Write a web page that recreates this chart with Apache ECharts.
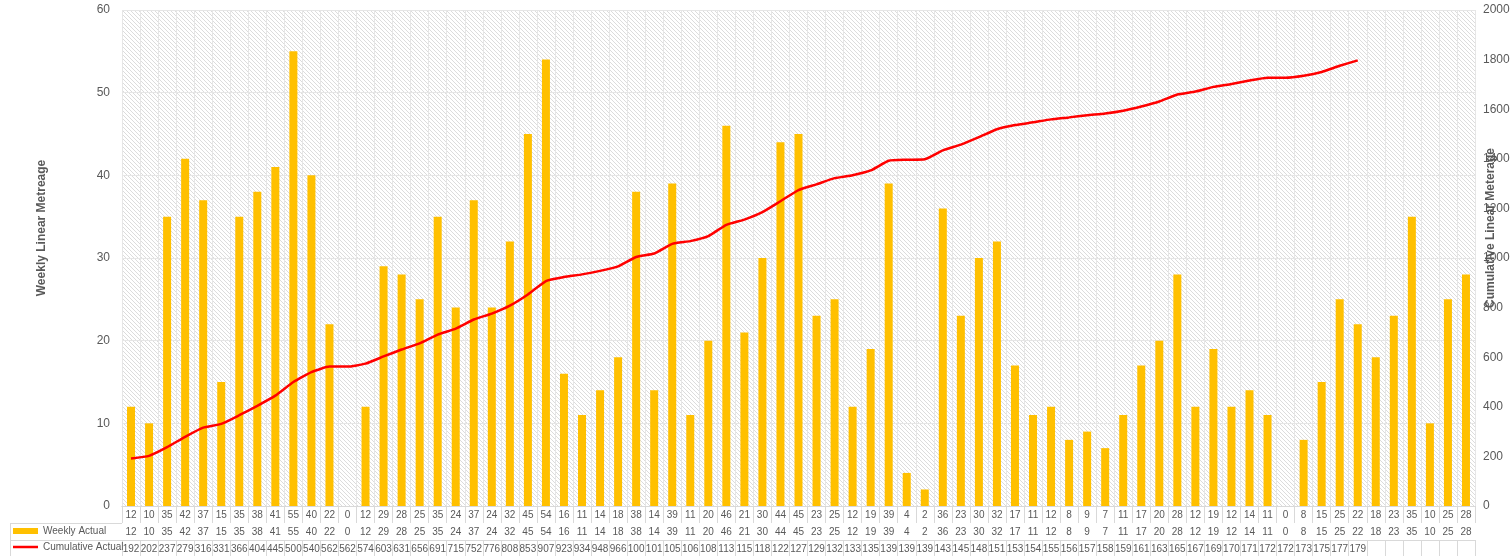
<!DOCTYPE html>
<html><head><meta charset="utf-8">
<script src="https://cdn.jsdelivr.net/npm/echarts@6/dist/echarts.min.js"></script>
<style>html,body{margin:0;padding:0;background:#fff}#c{width:1512px;height:556px}</style>
</head><body><div id="c"></div>
<script>
const weeklyActual = [12,10,35,42,37,15,35,38,41,55,40,22,0,12,29,28,25,35,24,37,24,32,45,54,16,11,14,18,38,14,39,11,20,46,21,30,44,45,23,25,12,19,39,4,2,36,23,30,32,17,11,12,8,9,7,11,17,20,28,12,19,12,14,11,0,8,15,25,22,18,23,35,10,25,28];
const cumulativeActual = [192,202,237,279,316,331,366,404,445,500,540,562,562,574,603,631,656,691,715,752,776,808,853,907,923,934,948,966,1004,1018,1057,1068,1088,1134,1155,1185,1229,1274,1297,1322,1334,1353,1392,1396,1398,1434,1457,1487,1519,1536,1547,1559,1567,1576,1583,1594,1611,1631,1659,1671,1690,1702,1716,1727,1727,1735,1750,1775,1797];
const weeks = weeklyActual.map((v,i)=>'W'+(i+1));
const leftTicks = {min:0, max:60, interval:10};
const rightTicks = {min:0, max:2000, interval:200};

const pc = document.createElement('canvas');
pc.width = 4; pc.height = 4;
const g = pc.getContext('2d');
g.fillStyle = '#ffffff'; g.fillRect(0,0,4,4);
g.strokeStyle = '#dcdcdc'; g.lineWidth = 1;
g.beginPath(); g.moveTo(-1,-1); g.lineTo(5,5); g.moveTo(-1,3); g.lineTo(1,5); g.moveTo(3,-1); g.lineTo(5,1); g.stroke();

const TXT = '#595959', LINE = '#d9d9d9';
const FONT = '"Liberation Sans",sans-serif';
const ROW = 17;

function tableAxis(idx, labels, offset, tickLen){
  return {
    type:'category', data: weeks, position:'bottom', offset: offset, gridIndex:0,
    boundaryGap:true,
    axisLine:{show:true, lineStyle:{color:LINE, width:1}},
    axisTick:{show:true, inside:false, length:tickLen, interval:0, lineStyle:{color:LINE}},
    axisLabel:{show:true, interval:0, margin:4, color:TXT, fontSize:10, fontFamily:FONT, hideOverlap:false,
      formatter:(v, i)=> labels[i]===undefined ? '' : String(labels[i]).slice(0,3)},
    splitLine:{show: idx===0, interval:0, lineStyle:{color:'#e6e6e6'}}
  };
}

const chart = echarts.init(document.getElementById('c'), null, {renderer:'canvas'});
chart.setOption({
  animation:false,
  textStyle:{fontFamily:FONT},
  grid:{left:122, right:37, top:10, bottom:50, show:true, outerBoundsMode:'none', containLabel:false,
        backgroundColor:{image:pc, repeat:'repeat'}, borderWidth:0},
  legend:[
    {left:13, top:526, itemWidth:25, itemHeight:6, padding:0,
     textStyle:{color:TXT, fontSize:10, fontFamily:FONT},
     data:[{name:'Weekly Actual', icon:'rect'}]},
    {left:13, top:542, itemWidth:25, itemHeight:6, padding:0,
     textStyle:{color:TXT, fontSize:10, fontFamily:FONT},
     data:[{name:'Cumulative Actual', icon:'path://M0,0H25V2.5H0Z'}]}
  ],
  xAxis:[
    tableAxis(0, weeklyActual, 0, ROW),
    tableAxis(1, weeklyActual, ROW, ROW),
    tableAxis(2, cumulativeActual, ROW*2, ROW)
  ],
  yAxis:[
    {type:'value', min:leftTicks.min, max:leftTicks.max, interval:leftTicks.interval,
     name:'Weekly Linear Metreage', nameLocation:'middle', nameGap:74, nameRotate:90, nameMoveOverlap:false,
     nameTextStyle:{color:TXT, fontWeight:'bold', fontSize:12, fontFamily:FONT, padding:[0,0,0,60]},
     axisLine:{show:false}, axisTick:{show:false},
     axisLabel:{color:TXT, fontSize:12, margin:12, fontFamily:FONT},
     splitLine:{show:true, lineStyle:{color:'#e6e6e6', width:1}}},
    {type:'value', min:rightTicks.min, max:rightTicks.max, interval:rightTicks.interval, position:'right',
     name:'Cumulative Linear Meterage', nameLocation:'middle', nameGap:10, nameRotate:90, nameMoveOverlap:false,
     nameTextStyle:{color:TXT, fontWeight:'bold', fontSize:12, fontFamily:FONT, padding:[0,0,0,60]},
     axisLine:{show:false}, axisTick:{show:false},
     axisLabel:{color:TXT, fontSize:12, margin:8, fontFamily:FONT, formatter:(v)=>String(v)},
     splitLine:{show:false}}
  ],
  series:[
    {name:'Weekly Actual', type:'bar', xAxisIndex:0, yAxisIndex:0, data:weeklyActual,
     barWidth:8, itemStyle:{color:'#FFC000'}},
    {name:'Cumulative Actual', type:'line', xAxisIndex:0, yAxisIndex:1, data:cumulativeActual,
     symbol:'none', smooth:0.15, lineStyle:{color:'#FF0000', width:2.5}, itemStyle:{color:'#FF0000'}}
  ],
  graphic:[
    {type:'line', shape:{x1:10, y1:523.5, x2:122, y2:523.5}, style:{stroke:LINE, lineWidth:1}},
    {type:'line', shape:{x1:10, y1:540.5, x2:122, y2:540.5}, style:{stroke:LINE, lineWidth:1}},
    {type:'line', shape:{x1:10.5, y1:523.5, x2:10.5, y2:556}, style:{stroke:LINE, lineWidth:1}}
  ]
});
</script></body></html>
